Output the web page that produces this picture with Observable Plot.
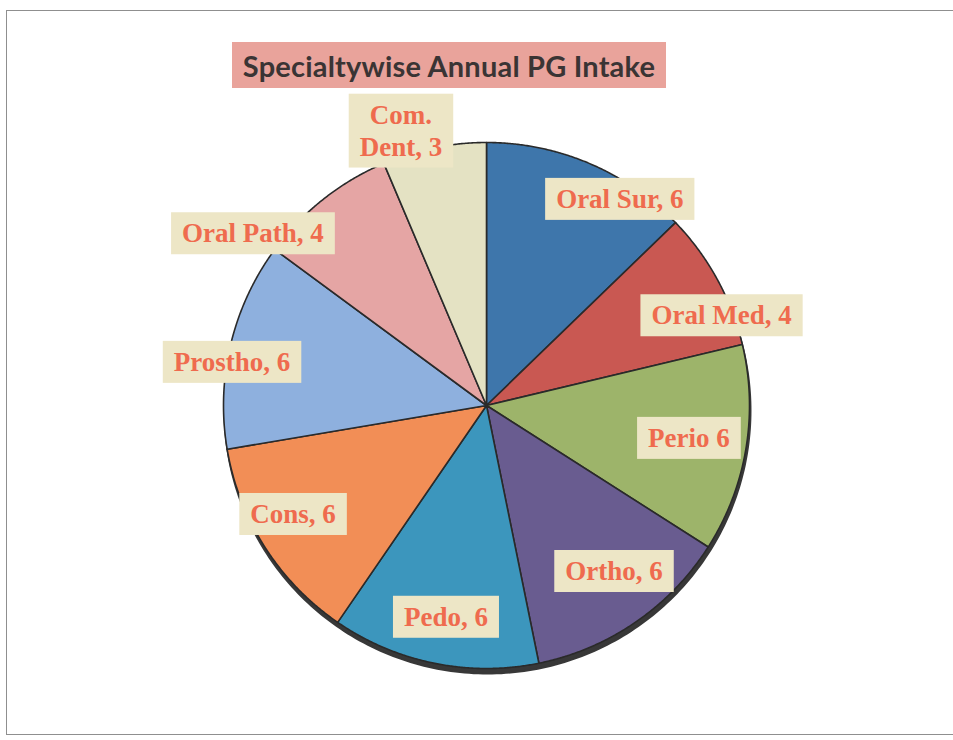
<!DOCTYPE html>
<html><head><meta charset="utf-8">
<script src="https://cdn.jsdelivr.net/npm/d3@7"></script>
<script src="https://cdn.jsdelivr.net/npm/@observablehq/plot@0.6"></script>
<style>
body{margin:0;background:#fff;}
#wrap{position:relative;width:953px;height:740px;overflow:hidden;background:#fff;}
#chart{position:absolute;left:0;top:0;}
#frame{position:absolute;left:6px;top:10px;width:970px;height:723px;border:1.5px solid #8f8f8f;pointer-events:none;}
#title{position:absolute;left:232px;top:42px;width:434px;height:46px;background:#e9a39b;color:#3a3434;
  font-family:Lato,"Open Sans",sans-serif;font-weight:bold;font-size:29px;display:flex;align-items:center;justify-content:center;letter-spacing:0.2px;}
</style></head>
<body>
<div id="wrap"><div id="chart"></div><div id="frame"></div><div id="title">Specialtywise Annual PG Intake</div></div>
<script>
// ---- data ----
const names = ["Oral Sur","Oral Med","Perio","Ortho","Pedo","Cons","Prostho","Oral Path","Com. Dent"];
const values = [6,4,6,6,6,6,6,4,3];
const labelTexts = ["Oral Sur, 6","Oral Med, 4","Perio 6","Ortho, 6","Pedo, 6","Cons, 6","Prostho, 6","Oral Path, 4","Com.\nDent, 3"];
const colors = ["#3e76ab","#c95852","#9db46a","#695c90","#3c96bd","#f28e56","#8eb0de","#e5a5a4","#e4e2c3"];

// ---- layout (pixel nudges for Excel "best fit" labels) ----
const labelNudges = [[46,-2],[39,16],[-18,-6],[1,-20],[4,-9],[-5,-13],[-37,7],[-95,2],[-41,-57]];
const W = 953, H = 740, CX = 486, CY = 405, R = 263, LABEL_R = 0.85;

const data = names.map((n,i)=>({name:n, value:values[i], label:labelTexts[i]}));
const arcs = d3.pie().sort(null).value(d=>d.value)(data);

const slicePts = [];
arcs.forEach(p=>{
  slicePts.push({name:p.data.name, x:0, y:0});
  const n = Math.ceil((p.endAngle-p.startAngle)/0.005);
  for(let i=0;i<=n;i++){
    const a = p.startAngle + (p.endAngle-p.startAngle)*i/n;
    slicePts.push({name:p.data.name, x:Math.sin(a), y:Math.cos(a)});
  }
});
const circlePts = d3.range(0,361).map(d=>({x:Math.sin(d*Math.PI/180), y:Math.cos(d*Math.PI/180)}));

const labelMarks = arcs.map((p,i)=>{
  const mid = (p.startAngle+p.endAngle)/2;
  return Plot.text([{x:LABEL_R*Math.sin(mid), y:LABEL_R*Math.cos(mid), t:p.data.label}], {
    x:"x", y:"y", text:"t", dx:labelNudges[i][0], dy:labelNudges[i][1],
    fontFamily:"Liberation Serif, Times New Roman, serif", fontWeight:"bold", fontSize:27,
    fill:"#ef6b4e", lineHeight:1.18, className:"pielabel"
  });
});

const chart = Plot.plot({
  width:W, height:H, margin:0,
  x:{domain:[-CX/R,(W-CX)/R], range:[0,W], axis:null},
  y:{domain:[-(H-CY)/R, CY/R], range:[H,0], axis:null},
  color:{domain:names, range:colors},
  marks:[
    Plot.line(circlePts, {x:"x", y:"y", fill:"#383838", stroke:"#383838", strokeWidth:2, curve:"linear-closed", dx:1, dy:5}),
    Plot.line(slicePts, {x:"x", y:"y", z:"name", fill:"name", stroke:"#2a2a2a", strokeWidth:1.6, curve:"linear-closed"}),
    ...labelMarks
  ]
});
document.getElementById("chart").appendChild(chart);

// label background boxes
chart.querySelectorAll(".pielabel text").forEach(t=>{
  const b = t.getBBox();
  const px = 11, py = 6;
  const r = document.createElementNS("http://www.w3.org/2000/svg","rect");
  r.setAttribute("x", b.x-px); r.setAttribute("y", b.y-py);
  r.setAttribute("width", b.width+2*px); r.setAttribute("height", b.height+2*py);
  r.setAttribute("fill", "#ede6c6");
  const tr = t.getAttribute("transform"); if(tr) r.setAttribute("transform", tr);
  t.parentNode.insertBefore(r, t);
});
</script>
</body></html>
